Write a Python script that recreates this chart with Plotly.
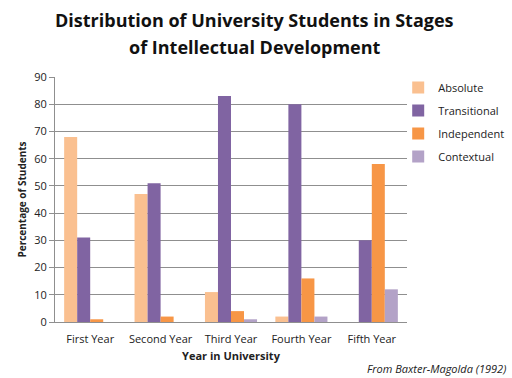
import plotly.graph_objects as go

categories = ["First Year", "Second Year", "Third Year", "Fourth Year", "Fifth Year"]
absolute = [68, 47, 11, 2, 0]
transitional = [31, 51, 83, 80, 30]
independent = [1, 2, 4, 16, 58]
contextual = [0, 0, 1, 2, 12]

title_lines = ["Distribution of University Students in Stages", "of Intellectual Development"]

series = [
    ("Absolute", absolute, "#FAC090"),
    ("Transitional", transitional, "#8064A2"),
    ("Independent", independent, "#F79646"),
    ("Contextual", contextual, "#B3A2C7"),
]

fig = go.Figure()
for name, vals, color in series:
    fig.add_trace(go.Bar(x=categories, y=vals, name=name, marker_color=color,
                         marker_line_width=0, legendgroup=name))

font_family = "Open Sans, Noto Sans, sans-serif"
fig.update_layout(
    width=512, height=378,
    margin=dict(l=55, r=105, t=77, b=56, autoexpand=False),
    paper_bgcolor="white", plot_bgcolor="white",
    barmode="group", bargap=0.26, bargroupgap=0,
    font=dict(family=font_family, size=11, color="#222222"),
    legend=dict(x=0.975, y=1.016, xanchor="left", yanchor="top",
                font=dict(size=11), tracegroupgap=4, itemwidth=30,
                bgcolor="rgba(0,0,0,0)"),
    showlegend=True,
)
for txt, yy in zip(title_lines, [1.2327, 1.1224]):
    fig.add_annotation(text="<b>" + txt + "</b>", xref="paper", yref="paper",
                       x=0.568, y=yy, xanchor="center", yanchor="middle", showarrow=False,
                       font=dict(size=18, color="#111111", family=font_family))
fig.update_yaxes(range=[0, 90], dtick=10, showgrid=True, gridcolor="#8f8f8f",
                 gridwidth=1, showline=True, linecolor="#8f8f8f",
                 ticks="outside", ticklen=5, tickcolor="#8f8f8f",
                 zeroline=False, automargin=False,
                 title=dict(text="<b>Percentage of Students</b>", font=dict(size=10), standoff=5))
fig.update_xaxes(showline=True, linecolor="#8f8f8f", ticks="", automargin=False,
                 ticklabelstandoff=7,
                 title=dict(text="<b>Year in University</b>", font=dict(size=11), standoff=7))
fig.add_annotation(text="<i>From Baxter-Magolda (1992)</i>", xref="paper", yref="paper",
                   x=1.287, y=-0.188, xanchor="right", yanchor="middle", showarrow=False,
                   font=dict(size=11, color="#222222"))

fig.write_html("out.html", config={"displayModeBar": False},
               post_script="document.body.style.margin='0';document.body.style.overflow='hidden';")
